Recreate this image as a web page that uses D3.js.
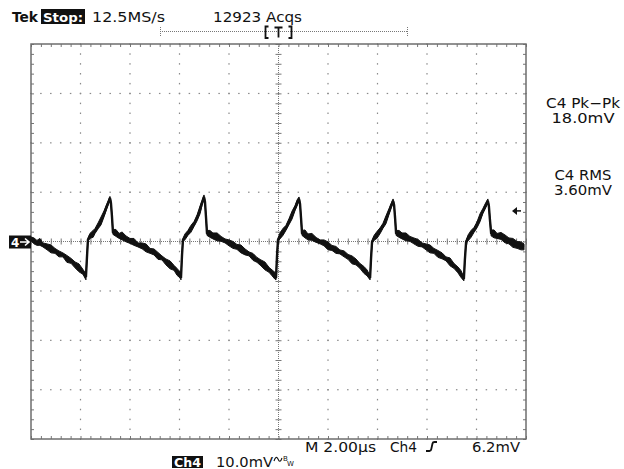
<!DOCTYPE html>
<html><head><meta charset="utf-8">
<script src="https://cdn.jsdelivr.net/npm/d3@7"></script>
<style>
html,body{margin:0;padding:0;background:#fff;}
svg{display:block;}
text{font-family:"DejaVu Sans",sans-serif;fill:#111;}
</style></head><body>
<svg id="scope" width="624" height="469"></svg>
<script>
// Channel 4 record: time in microseconds (trigger at 0), amplitude in millivolts
const timeUs = [
  -10.00,-9.88,-9.76,-9.64,-9.52,-9.35,-9.19,-9.03,-8.87,-8.71,-8.55,-8.38,-8.22,-8.06,-7.90,-7.78,
  -7.74,-7.70,-7.62,-7.49,-7.41,-7.29,-7.17,-7.05,-6.93,-6.85,-6.81,-6.77,-6.73,-6.69,-6.57,-6.44,-6.32,-6.16,-6.00,-5.84,-5.68,-5.51,-5.35,-5.19,-5.03,-4.87,-4.71,-4.55,-4.38,-4.22,-4.10,-3.98,-3.94,
  -3.90,-3.86,-3.78,-3.66,-3.54,-3.41,-3.29,-3.17,-3.09,-3.01,-2.97,-2.93,-2.89,-2.77,-2.65,-2.48,-2.32,-2.16,-2.00,-1.84,-1.68,-1.52,-1.35,-1.19,-1.03,-0.87,-0.71,-0.55,-0.38,-0.26,-0.14,-0.10,
  -0.06,-0.02,0.06,0.18,0.30,0.42,0.55,0.67,0.75,0.83,0.87,0.91,0.95,1.07,1.19,1.35,1.52,1.68,1.84,2.00,2.16,2.32,2.48,2.65,2.81,2.97,3.13,3.29,3.45,3.58,3.70,
  3.74,3.78,3.86,3.98,4.10,4.22,4.34,4.46,4.55,4.63,4.67,4.71,4.75,4.87,4.99,5.15,5.31,5.47,5.64,5.80,5.96,6.12,6.28,6.44,6.61,6.77,6.93,7.09,7.25,7.37,7.49,
  7.53,7.58,7.66,7.78,7.90,8.02,8.14,8.26,8.38,8.46,8.50,8.54,8.59,8.71,8.83,8.99,9.15,9.31,9.47,9.64,9.80,9.92
];
const ch4mV = [
  0.53,0.12,-0.28,-0.08,-0.69,-1.09,-1.50,-1.90,-2.51,-2.71,-3.52,-3.93,-4.74,-5.34,-6.15,-7.17,
  -3.32,0.32,1.13,1.54,2.15,3.16,4.17,5.59,7.20,8.22,8.83,7.81,5.18,1.94,1.74,1.13,1.13,0.53,0.12,-0.08,-0.69,-0.89,-1.30,-1.90,-2.11,-2.91,-3.32,-4.13,-4.74,-5.34,-6.15,-6.76,-7.37,
  -2.91,0.32,0.93,1.74,2.55,3.56,4.78,6.40,7.81,9.03,8.02,4.98,1.74,1.54,1.13,0.93,0.53,0.12,-0.28,-0.69,-1.09,-1.50,-2.11,-2.51,-3.12,-3.72,-4.33,-4.94,-5.75,-6.36,-6.96,-7.37,
  -2.91,0.32,1.13,1.94,2.75,3.97,5.38,6.80,7.81,8.62,7.61,4.78,1.74,1.54,0.93,0.93,0.32,-0.08,-0.28,-0.89,-1.30,-1.70,-2.11,-2.51,-3.12,-3.72,-4.13,-4.94,-5.75,-6.36,-7.37,
  -3.32,-0.08,0.73,1.34,2.15,3.16,4.37,5.99,7.20,8.22,7.41,4.78,1.74,1.54,1.13,0.93,0.53,0.12,-0.28,-0.69,-1.09,-1.50,-1.90,-2.51,-2.91,-3.52,-4.13,-4.94,-5.75,-6.56,-7.57,
  -3.72,-0.08,0.73,1.54,2.35,3.36,4.78,6.19,7.41,8.22,7.20,4.57,1.74,1.54,1.13,1.13,0.53,0.12,-0.28,-0.69,-0.89,-1.09
];
// Half-width of the persistence band around each sample (mV)
const ch4SpreadMV = [
  0.4,0.6,0.5,0.7,0.4,0.6,0.8,0.5,0.6,0.4,0.7,0.5,0.6,0.8,0.5,0.6,
  0.5,0.3,0.5,0.7,0.5,0.6,0.8,0.6,0.5,0.4,0.3,0.4,0.3,0.5,0.7,0.5,0.8,0.6,0.5,0.7,0.4,0.6,0.8,0.5,0.6,0.7,0.4,0.6,0.8,0.5,0.7,0.6,0.4,
  0.5,0.3,0.6,0.5,0.7,0.5,0.6,0.8,0.5,0.4,0.3,0.4,0.5,0.7,0.6,0.8,0.5,0.4,0.6,0.7,0.5,0.8,0.6,0.4,0.7,0.5,0.6,0.8,0.5,0.6,0.7,0.4,
  0.5,0.3,0.6,0.7,0.5,0.6,0.8,0.5,0.6,0.4,0.3,0.4,0.5,0.8,0.6,0.7,0.5,0.4,0.6,0.8,0.5,0.7,0.4,0.6,0.5,0.8,0.6,0.5,0.7,0.6,0.4,
  0.5,0.3,0.5,0.7,0.6,0.5,0.8,0.6,0.5,0.4,0.3,0.4,0.5,0.7,0.6,0.8,0.5,0.6,0.7,0.4,0.6,0.8,0.5,0.7,0.6,0.4,0.8,0.5,0.6,0.7,0.4,
  0.5,0.3,0.6,0.7,0.5,0.6,0.8,0.5,0.5,0.4,0.3,0.4,0.6,0.8,0.5,0.7,0.8,0.6,0.9,0.7,0.8,0.6
];

// Screen settings
const timeDomain = [-10, 10];      // 10 divisions x 2.00 µs
const voltDomain = [-40, 40];      // 8 divisions x 10.0 mV
const timeMajor = [-8, -6, -4, -2, 2, 4, 6, 8];
const voltMajor = [-30, -20, -10, 10, 20, 30];
const triggerLevelMV = 6.2;

// Readouts
const headerLabels = ["Tek", "Stop:", "12.5MS/s", "12923 Acqs"];
const measureNames = ["C4 Pk\u2212Pk", "C4 RMS"];
const measureValues = ["18.0mV", "3.60mV"];
const footerLabels = ["M 2.00\u00b5s", "Ch4", "6.2mV"];
const channelLabels = ["Ch4", "10.0mV"];

const svg = d3.select("#scope");
const x = d3.scaleLinear().domain(timeDomain).range([31, 526]);
const y = d3.scaleLinear().domain(voltDomain).range([439, 44]);

const minorTimes = d3.range(-10, 10.001, 0.4).map(v => +v.toFixed(2));
const minorVolts = d3.range(-40, 40.001, 2).map(v => +v.toFixed(2));
const gridCol = "#8a8a8a";

// graticule dots on the major divisions
const dots = svg.append("g").attr("fill", gridCol);
voltMajor.forEach(v => {
  minorTimes.forEach(t => {
    dots.append("rect").attr("x", x(t) - 0.75).attr("y", y(v) - 0.5).attr("width", 1.5).attr("height", 1.2);
  });
});
timeMajor.forEach(t => {
  minorVolts.forEach(v => {
    dots.append("rect").attr("x", x(t) - 0.6).attr("y", y(v) - 0.6).attr("width", 1.2).attr("height", 1.5);
  });
});

// center cross with fine ticks
const cx = x(0), cy = y(0);
svg.append("line").attr("x1", x(-10)).attr("x2", x(10)).attr("y1", cy).attr("y2", cy)
  .attr("stroke", "#777").attr("stroke-width", 1).attr("stroke-dasharray", "1,1");
svg.append("line").attr("x1", cx).attr("x2", cx).attr("y1", y(40)).attr("y2", y(-40))
  .attr("stroke", "#777").attr("stroke-width", 1).attr("stroke-dasharray", "1,1");

function tickAxis(axis, tx, ty) {
  svg.append("g").attr("transform", `translate(${tx},${ty})`).call(axis)
    .call(g => g.select(".domain").remove())
    .call(g => g.selectAll("line").attr("stroke", "#777"));
}
tickAxis(d3.axisBottom(x).tickValues(minorTimes).tickSize(3).tickFormat(""), 0, cy);
tickAxis(d3.axisTop(x).tickValues(minorTimes).tickSize(3).tickFormat(""), 0, cy);
tickAxis(d3.axisRight(y).tickValues(minorVolts).tickSize(3).tickFormat(""), cx, 0);
tickAxis(d3.axisLeft(y).tickValues(minorVolts).tickSize(3).tickFormat(""), cx, 0);

// frame ticks, pointing inward
tickAxis(d3.axisBottom(x).tickValues(minorTimes).tickSize(3).tickFormat(""), 0, y(40));
tickAxis(d3.axisTop(x).tickValues(minorTimes).tickSize(3).tickFormat(""), 0, y(-40));
tickAxis(d3.axisRight(y).tickValues(minorVolts).tickSize(3).tickFormat(""), x(-10), 0);
tickAxis(d3.axisLeft(y).tickValues(minorVolts).tickSize(3).tickFormat(""), x(10), 0);

svg.append("rect").attr("x", x(-10)).attr("y", y(40))
  .attr("width", x(10) - x(-10)).attr("height", y(-40) - y(40))
  .attr("fill", "none").attr("stroke", "#6e6e6e").attr("stroke-width", 1.5);

// waveform: persistence band plus the centre trace
const band = d3.area()
  .x((d, i) => x(timeUs[i]))
  .y0((d, i) => y(d - ch4SpreadMV[i]))
  .y1((d, i) => y(d + ch4SpreadMV[i]));
svg.append("path").datum(ch4mV).attr("d", band)
  .attr("fill", "#111").attr("stroke", "#111").attr("stroke-width", 1)
  .attr("stroke-linejoin", "miter");
const trace = d3.line().x((d, i) => x(timeUs[i])).y(d => y(d));
svg.append("path").datum(ch4mV).attr("d", trace)
  .attr("fill", "none").attr("stroke", "#111").attr("stroke-width", 2.4)
  .attr("stroke-linejoin", "miter").attr("stroke-miterlimit", 2);

// header
svg.append("text").attr("x", 12).attr("y", 21.5).attr("font-size", 14).attr("font-weight", "bold")
  .attr("textLength", 26).attr("lengthAdjust", "spacingAndGlyphs").text(headerLabels[0]);
svg.append("rect").attr("x", 41).attr("y", 9).attr("width", 44).attr("height", 15).attr("fill", "#111");
svg.append("text").attr("x", 43).attr("y", 21.5).attr("font-size", 13).attr("font-weight", "bold")
  .style("fill", "#fff")
  .attr("textLength", 40).attr("lengthAdjust", "spacingAndGlyphs").text(headerLabels[1]);
svg.append("text").attr("x", 92).attr("y", 21.5).attr("font-size", 14)
  .attr("textLength", 73).attr("lengthAdjust", "spacingAndGlyphs").text(headerLabels[2]);
svg.append("text").attr("x", 213).attr("y", 21.5).attr("font-size", 14)
  .attr("textLength", 89).attr("lengthAdjust", "spacingAndGlyphs").text(headerLabels[3]);

// trigger position bar
const bar = svg.append("g").attr("stroke", "#777").attr("stroke-width", 1).attr("fill", "none");
bar.append("line").attr("x1", 160).attr("x2", 408).attr("y1", 31.5).attr("y2", 31.5).attr("stroke-dasharray", "1,1");
bar.append("line").attr("x1", 160.5).attr("x2", 160.5).attr("y1", 27).attr("y2", 36).attr("stroke-dasharray", "1,1");
bar.append("line").attr("x1", 407.5).attr("x2", 407.5).attr("y1", 27).attr("y2", 36).attr("stroke-dasharray", "1,1");
const br = svg.append("g").attr("stroke", "#111").attr("stroke-width", 1.8).attr("fill", "none");
br.append("path").attr("d", `M${cx - 10},26.5 H${cx - 13} V38 H${cx - 10}`);
br.append("path").attr("d", `M${cx + 10},26.5 H${cx + 13} V38 H${cx + 10}`);
br.append("path").attr("d", `M${cx - 4},27.5 H${cx + 4} M${cx},27.5 V37.5`);

// measurements
const nameWidths = [74, 57], valueWidths = [63, 58];
[0, 1].forEach(i => {
  const base = [108, 180][i];
  svg.append("text").attr("x", 583 - nameWidths[i] / 2).attr("y", base).attr("font-size", 13.5)
    .attr("textLength", nameWidths[i]).attr("lengthAdjust", "spacingAndGlyphs").text(measureNames[i]);
  svg.append("text").attr("x", 583 - valueWidths[i] / 2).attr("y", base + 14.5).attr("font-size", 13.5)
    .attr("textLength", valueWidths[i]).attr("lengthAdjust", "spacingAndGlyphs").text(measureValues[i]);
});

// trigger level arrow
const ty = y(triggerLevelMV);
svg.append("path").attr("d", `M${x(10) - 14},${ty} l5,-4 v8 z`).attr("fill", "#111");
svg.append("line").attr("x1", x(10) - 10).attr("x2", x(10) - 5).attr("y1", ty).attr("y2", ty)
  .attr("stroke", "#111").attr("stroke-width", 1.5);

// channel ground marker
svg.append("rect").attr("x", 9).attr("y", cy - 6).attr("width", 22).attr("height", 13).attr("fill", "#111");
svg.append("text").attr("x", 11).attr("y", cy + 5).attr("font-size", 12).attr("font-weight", "bold")
  .style("fill", "#fff").text("4");
svg.append("path").attr("d", `M20,${cy + 0.5} H29 M25,${cy - 3} L29,${cy + 0.5} L25,${cy + 4}`)
  .attr("stroke", "#fff").attr("stroke-width", 1.6).attr("fill", "none");

// footer
svg.append("text").attr("x", 305).attr("y", 451.5).attr("font-size", 14)
  .attr("textLength", 71).attr("lengthAdjust", "spacingAndGlyphs").text(footerLabels[0]);
svg.append("text").attr("x", 390).attr("y", 451.5).attr("font-size", 14)
  .attr("textLength", 27).attr("lengthAdjust", "spacingAndGlyphs").text(footerLabels[1]);
svg.append("path").attr("d", "M426,451 H429.5 Q431,451 431.3,449 L432.5,443.5 Q432.8,442 434.5,442 H437")
  .attr("stroke", "#111").attr("stroke-width", 1.8).attr("fill", "none");
svg.append("text").attr("x", 472).attr("y", 451.5).attr("font-size", 14)
  .attr("textLength", 48).attr("lengthAdjust", "spacingAndGlyphs").text(footerLabels[2]);

svg.append("rect").attr("x", 172).attr("y", 456).attr("width", 31).attr("height", 12).attr("fill", "#111");
svg.append("text").attr("x", 174).attr("y", 466.5).attr("font-size", 12.5).attr("font-weight", "bold")
  .style("fill", "#fff").attr("textLength", 27).attr("lengthAdjust", "spacingAndGlyphs").text(channelLabels[0]);
svg.append("text").attr("x", 216).attr("y", 466.5).attr("font-size", 14)
  .attr("textLength", 57).attr("lengthAdjust", "spacingAndGlyphs").text(channelLabels[1]);
svg.append("path").attr("d", "M274,461 Q276,455 278,459 Q280,464 282,458")
  .attr("stroke", "#111").attr("stroke-width", 1.1).attr("fill", "none");
svg.append("text").attr("x", 283).attr("y", 461).attr("font-size", 7).text("B");
svg.append("text").attr("x", 287).attr("y", 466).attr("font-size", 7).text("W");
</script>
</body></html>
